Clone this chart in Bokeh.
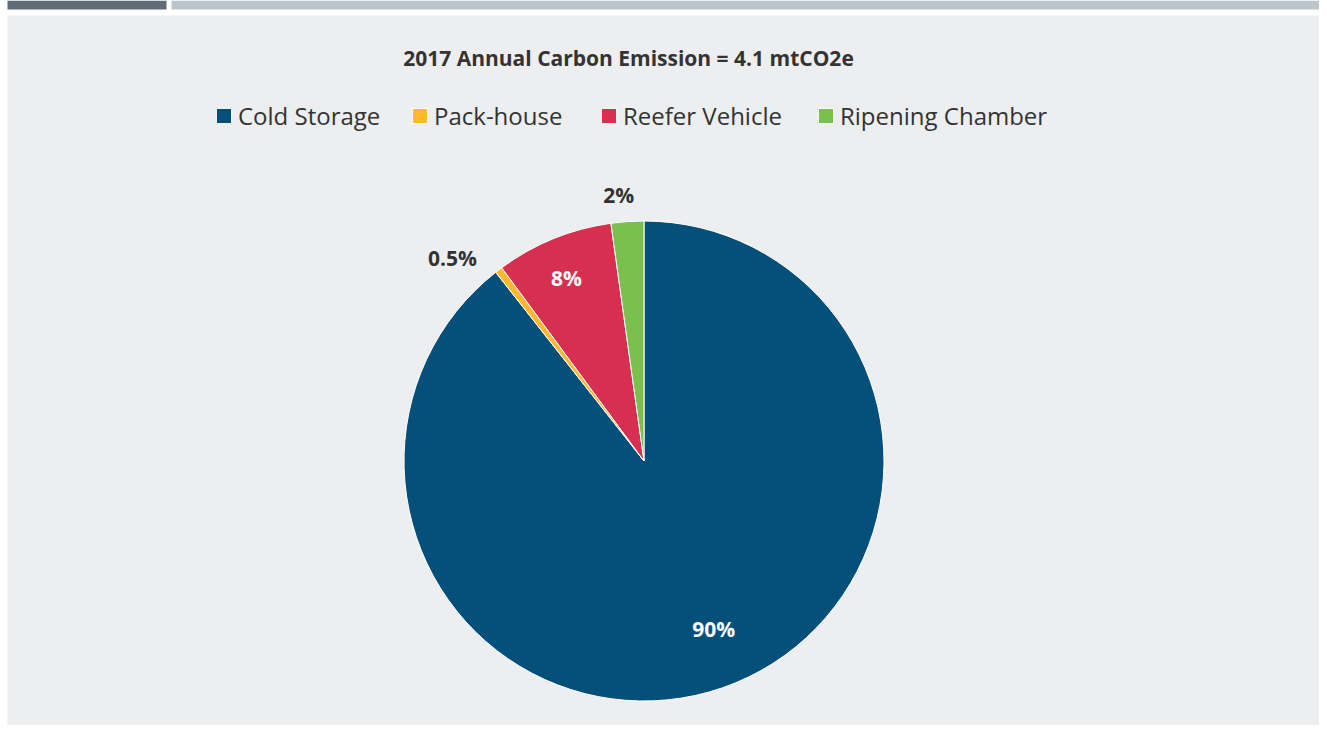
import numpy as np
from bokeh.plotting import figure
from bokeh.models import Range1d, Label, Legend, LegendItem, ColumnDataSource
from bokeh.core.properties import value
from bokeh.embed import file_html
from bokeh.resources import INLINE

# ---- data ----
categories = ["Cold Storage", "Pack-house", "Reefer Vehicle", "Ripening Chamber"]
shares = [89.4, 0.5, 7.9, 2.2]
pct_labels = ["90%", "0.5%", "8%", "2%"]
title_text = "2017 Annual Carbon Emission = 4.1 mtCO2e"

# ---- style ----
colors = ["#04507B", "#FDB92D", "#D72F50", "#79C04D"]
label_colors = ["#FFFFFF", "#333333", "#FFFFFF", "#333333"]
label_rf = [0.76, 1.16, 0.825, 1.11]
label_dx = [10, -23, -3, -7]
label_dy = [-4, 19, 0, 0]
legend_x = [214, 410, 599, 816]
FONT = "Open Sans"
W, H = 1319, 725
CX, CY, R = 643.5, 264.5, 240

p = figure(width=W, height=H, x_range=Range1d(0, W), y_range=Range1d(0, H),
           output_backend="svg", toolbar_location=None, min_border=0,
           x_axis_location=None, y_axis_location=None)
p.grid.visible = False
p.outline_line_color = None
p.background_fill_color = "white"
p.border_fill_color = "white"

# panel & top bars
p.quad(left=7, right=W, bottom=0, top=H - 15, fill_color="#EDEEF0", line_color=None)
p.quad(left=[7, 171], right=[166, W], bottom=H - 9, top=H,
       fill_color=["#5F6B75", "#BCC5CB"], line_color=None)

frac = np.array(shares) / np.sum(shares)
cum_after = np.cumsum(frac)
cum_before = cum_after - frac
start = np.pi / 2 - 2 * np.pi * cum_before
end = np.pi / 2 - 2 * np.pi * cum_after
mid = np.pi / 2 - 2 * np.pi * (cum_before + frac / 2)

src = ColumnDataSource(dict(cat=categories, start=start, end=end, color=colors))
wr = p.wedge(x=CX, y=CY, radius=R, radius_units="screen", start_angle="start", end_angle="end",
             direction="clock", fill_color="color", line_color="#FFFFFF", line_width=1, source=src)

lx = CX + np.array(label_rf) * R * np.cos(mid)
ly = CY + np.array(label_rf) * R * np.sin(mid)
lsrc = ColumnDataSource(dict(x=lx, y=ly, t=pct_labels, c=label_colors, dx=label_dx, dy=label_dy))
p.text(x="x", y="y", text="t", text_color="c", x_offset="dx", y_offset="dy", source=lsrc,
       text_font=value(FONT), text_font_size="21px", text_font_style="bold",
       text_align="center", text_baseline="middle")

p.add_layout(Label(x=628, y=H - 57, text=title_text, text_font=FONT, text_font_size="21px",
                   text_font_style="bold", text_color="#333333", text_align="center",
                   text_baseline="middle"))

for i, c in enumerate(categories):
    lg = Legend(items=[LegendItem(label=c, renderers=[wr], index=i)], orientation="horizontal",
                location=(legend_x[i], H - 132),
                glyph_width=19, glyph_height=19, label_standoff=5, spacing=0,
                label_height=32, padding=0, margin=0,
                label_text_font=FONT, label_text_font_size="24px", label_text_color="#333333",
                border_line_color=None, background_fill_alpha=0)
    p.add_layout(lg, "center")

open("out.html", "w").write(file_html(p, INLINE))
